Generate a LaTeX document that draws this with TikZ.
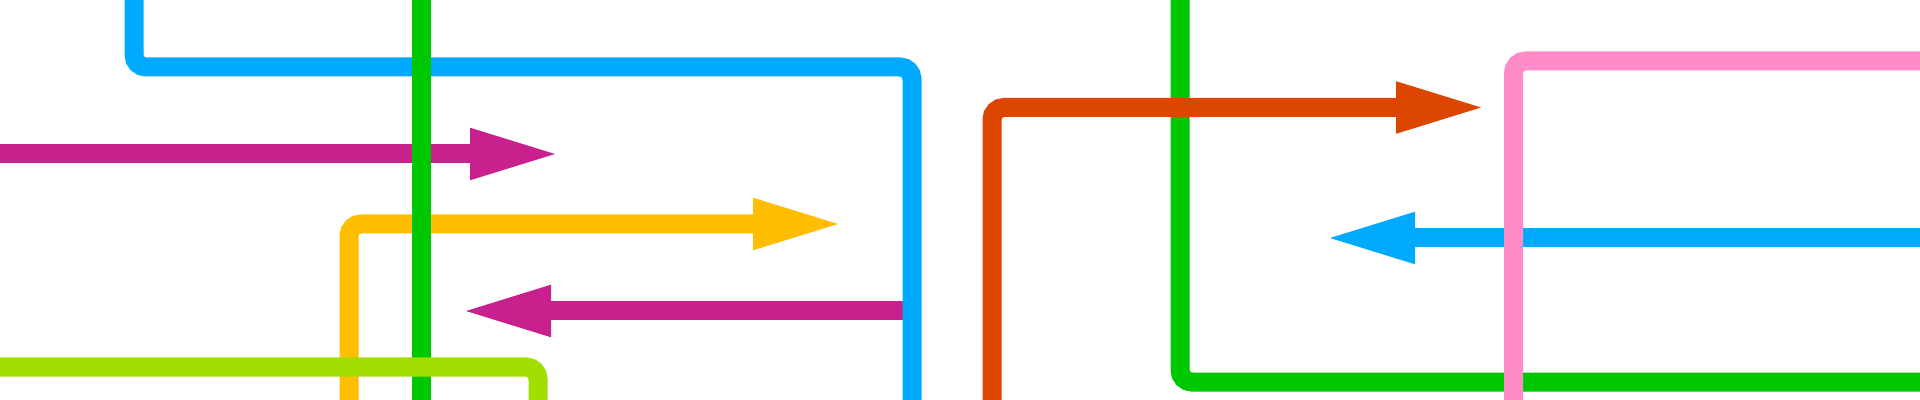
\documentclass[tikz,border=0pt]{standalone}
\usetikzlibrary{arrows.meta}
\definecolor{cblue}{RGB}{0,170,255}
\definecolor{cgreen}{RGB}{0,200,0}
\definecolor{cmag}{RGB}{200,32,140}
\definecolor{cyel}{RGB}{255,190,0}
\definecolor{clime}{RGB}{160,222,0}
\definecolor{corange}{RGB}{220,70,0}
\definecolor{cpink}{RGB}{255,140,200}
\begin{document}
\begin{tikzpicture}[x=0.5pt,y=-0.5pt,
  route/.style={line width=9.5pt, rounded corners=6pt},
  tipped/.style={-{Triangle[length=46pt,width=23pt]}}]
\useasboundingbox (0,0) rectangle (1920,400);
\fill[white] (0,0) rectangle (1920,400);
\clip (0,0) rectangle (1920,400);
% coordinates
\coordinate (m1s) at (-10,154);  \coordinate (m1t) at (562,154);
\coordinate (y1s) at (349,410);  \coordinate (y1c) at (349,224); \coordinate (y1t) at (845,224);
\coordinate (m2s) at (912,311);  \coordinate (m2t) at (459,311);
\coordinate (b1s) at (134,-10);  \coordinate (b1c) at (134,67);  \coordinate (b1d) at (912,67); \coordinate (b1e) at (912,410);
\coordinate (g1s) at (421,-10);  \coordinate (g1e) at (421,410);
\coordinate (l1s) at (-10,367);  \coordinate (l1c) at (538,367); \coordinate (l1e) at (538,410);
\coordinate (g2s) at (1180,-10); \coordinate (g2c) at (1180,382); \coordinate (g2e) at (1930,382);
\coordinate (o1s) at (992,410);  \coordinate (o1c) at (992,107.5); \coordinate (o1t) at (1488,107.5);
\coordinate (b2s) at (1930,238); \coordinate (b2t) at (1323,238);
\coordinate (p1s) at (1930,61);  \coordinate (p1c) at (1513.5,61); \coordinate (p1e) at (1513.5,410);
% routes
\draw[route,cmag,tipped] (m1s) -- (m1t);
\draw[route,cyel,tipped] (y1s) -- (y1c) -- (y1t);
\draw[route,cmag,tipped] (m2s) -- (m2t);
\draw[route,cblue] (b1s) -- (b1c) -- (b1d) -- (b1e);
\draw[route,cgreen] (g1s) -- (g1e);
\draw[route,clime] (l1s) -- (l1c) -- (l1e);
\draw[route,cgreen] (g2s) -- (g2c) -- (g2e);
\draw[route,corange,tipped] (o1s) -- (o1c) -- (o1t);
\draw[route,cblue,tipped] (b2s) -- (b2t);
\draw[route,cpink] (p1s) -- (p1c) -- (p1e);
\end{tikzpicture}
\end{document}
